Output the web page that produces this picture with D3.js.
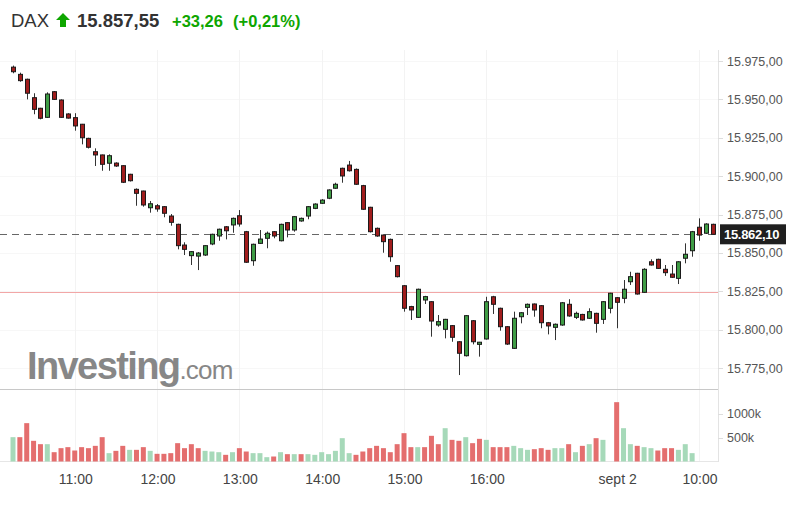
<!DOCTYPE html>
<html>
<head>
<meta charset="utf-8">
<script src="https://cdnjs.cloudflare.com/ajax/libs/d3/7.8.5/d3.min.js"></script>
<style>
  body { margin: 0; background: #fff; }
  text { font-family: "Liberation Sans", Arial, sans-serif; }
</style>
</head>
<body>
<script>
// candle data, 5 min bars, 1 sept 10:15 -> 2 sept 10:10
var opens = [15971,15966.3,15963.1,15951.1,15944.2,15938.3,15955.0,15949.6,15940.5,15938.1,
  15933.8,15924.6,15915.9,15913.8,15908.4,15908.5,15906.8,15901.2,15891.4,15890.3,
  15879.4,15880.7,15880.1,15874.0,15868.6,15855.1,15848.2,15847.9,15848.6,15855.8,
  15861.0,15867.0,15868.2,15874.2,15863.8,15844.9,15856.2,15859.5,15863.8,15857.9,
  15869.7,15864.9,15870.8,15874.0,15879.0,15882.3,15885.6,15892.1,15905.1,15907.2,
  15904.4,15893.8,15879.7,15866.0,15861.6,15858.8,15841.7,15828.6,15815.0,15808.0,
  15819.3,15818.2,15803.0,15800.2,15802.6,15792.1,15783.0,15805.8,15790.4,15793.9,
  15821.4,15813.9,15801.9,15787.8,15808.4,15814.5,15816.7,15815.6,15804.5,15801.5,
  15803.0,15816.5,15808.0,15809.9,15807.4,15810.6,15806.7,15813.9,15820.8,15820.4,
  15831.2,15836.7,15824.3,15844.2,15845.8,15839.3,15836.2,15833.4,15846.5,15851.4,
  15866.7,15862.8,15868.6];
var highs = [15972,15967.4,15963.5,15954.0,15944.5,15954.6,15955.4,15950.0,15941.0,15941.0,
  15934.0,15925.0,15918.1,15914.0,15914.2,15909.0,15907.0,15901.5,15892.0,15890.5,
  15883.8,15881.8,15880.5,15875.3,15869.0,15856.9,15851.2,15850.5,15855.0,15862.5,
  15865.8,15867.5,15873.0,15877.9,15864.3,15856.0,15864.9,15863.9,15864.2,15869.0,
  15870.0,15874.0,15873.0,15880.5,15882.3,15885.0,15891.4,15895.7,15905.5,15909.9,
  15905.0,15894.3,15880.0,15866.5,15862.0,15859.3,15842.0,15829.0,15815.5,15826.7,
  15822.0,15818.5,15809.5,15807.0,15803.0,15792.5,15809.5,15806.2,15792.0,15821.4,
  15822.0,15814.3,15802.3,15811.7,15811.4,15817.0,15817.0,15816.0,15805.0,15804.0,
  15818.0,15819.8,15811.7,15810.3,15813.9,15811.0,15818.6,15824.0,15821.2,15832.3,
  15837.7,15837.0,15840.0,15845.8,15846.2,15842.1,15842.1,15844.6,15856.2,15864.3,
  15872.5,15869.3,15869.0];
var lows = [15967,15961.5,15950.0,15940.3,15937.0,15938.0,15949.6,15938.0,15937.5,15929.6,
  15920.7,15918.0,15906.6,15903.5,15903.5,15906.0,15895.5,15896.5,15880.7,15880.1,
  15876.2,15876.8,15873.2,15867.7,15852.3,15848.6,15842.1,15838.8,15848.0,15855.0,
  15857.9,15858.8,15863.1,15867.1,15843.5,15841.6,15855.8,15853.0,15859.5,15857.5,
  15860.1,15863.8,15870.3,15871.9,15878.5,15882.0,15885.0,15891.7,15895.7,15903.0,
  15894.3,15878.0,15863.3,15860.5,15850.1,15844.2,15834.0,15811.7,15806.3,15807.6,
  15816.7,15795.4,15801.9,15794.3,15792.1,15770.4,15782.5,15790.4,15782.4,15793.5,
  15810.2,15799.3,15790.0,15787.4,15804.1,15809.5,15808.4,15800.9,15796.9,15793.2,
  15802.5,15808.4,15806.9,15805.9,15807.0,15798.0,15803.7,15810.6,15800.9,15817.2,
  15829.1,15822.8,15824.0,15841.7,15839.5,15835.0,15833.7,15829.7,15843.2,15847.5,
  15857.9,15862.3,15862.0];
var closes = [15968,15962.2,15954.0,15943.5,15937.7,15953.5,15950.0,15938.3,15937.8,15932.7,
  15925.0,15918.8,15913.8,15907.7,15913.3,15906.6,15896.0,15897.0,15888.8,15881.2,
  15882.0,15878.6,15875.8,15869.9,15854.7,15852.3,15850.8,15849.9,15854.7,15862.1,
  15865.4,15864.4,15872.5,15868.8,15843.9,15855.6,15859.0,15862.8,15861.0,15868.6,
  15864.9,15873.6,15872.5,15880.1,15881.8,15884.4,15891.0,15894.7,15900.1,15903.5,
  15894.7,15878.4,15863.8,15861.0,15857.3,15847.5,15834.5,15813.9,15812.8,15826.3,
  15821.5,15805.6,15805.2,15806.7,15795.0,15784.6,15809.1,15792.1,15791.8,15818.2,
  15816.5,15801.9,15790.6,15807.4,15811.0,15816.5,15812.8,15804.5,15802.4,15803.5,
  15817.5,15808.9,15810.6,15806.3,15811.7,15804.1,15818.2,15823.7,15817.8,15826.3,
  15834.5,15823.2,15839.3,15842.1,15839.9,15837.1,15834.1,15844.2,15849.1,15863.8,
  15861.6,15868.8,15862.1];
// volume in thousands (null = not published yet)
var volumes = [507,507,799,431,361,361,194,278,299,229,
  299,278,326,507,174,222,326,243,243,299,
  222,160,160,174,382,278,361,278,222,208,
  194,139,194,278,208,174,174,90,104,194,
  153,153,153,153,139,194,153,222,486,174,
  139,208,278,326,278,194,361,590,299,299,
  299,535,361,694,451,431,507,382,472,451,
  299,299,299,326,278,243,257,278,243,278,
  278,361,194,326,361,486,451,0,1236,694,
  361,326,299,278,229,278,278,243,361,174,
  null,null,null];
var prevBarClose = 15965;   // 10:10 bar, before the first shown

var priceTicks = [15775,15800,15825,15850,15875,15900,15925,15950,15975];
var volTicks = [500,1000];
var xTickLabels = ["11:00","12:00","13:00","14:00","15:00","16:00","sept 2","10:00"];
var xTickTimes  = ["1 11:00","1 12:00","1 13:00","1 14:00","1 15:00","1 16:00","2 09:00","2 10:00"];

var lastPrice = 15862.10, prevClose = 15824.29;
var header = {name: "DAX", price: "15.857,55", chg: "+33,26", pct: "(+0,21%)"};

// time categories
var times = [];
for (var m = 10*60+15; m <= 17*60+30; m += 5) times.push("1 " + d3.format("02")(Math.floor(m/60)) + ":" + d3.format("02")(m%60));
for (var m = 9*60; m <= 10*60+10; m += 5) times.push("2 " + d3.format("02")(Math.floor(m/60)) + ":" + d3.format("02")(m%60));

var W = 791, H = 510;
var plotR = 718;
var fmt = function(v){ return d3.format(",.2f")(v).replace(/,/g,"#").replace(".",",").replace(/#/g,"."); };

var svg = d3.select("body").append("svg").attr("width", W).attr("height", H);

var x = d3.scalePoint().domain(times).range([13, 712.7]);
var y = d3.scaleLinear().domain([15775, 15975]).range([368, 61]);
var yv = d3.scaleLinear().domain([0, 1000]).range([461.5, 413.5]);

// grid
var g = svg.append("g");
g.selectAll(".hg").data(priceTicks).enter().append("line")
  .attr("x1", 0).attr("x2", plotR)
  .attr("y1", function(d){ return Math.round(y(d))+0.5; }).attr("y2", function(d){ return Math.round(y(d))+0.5; })
  .attr("stroke", "#f7f7f7");
g.selectAll(".vg").data(xTickTimes).enter().append("line")
  .attr("x1", function(d){ return Math.round(x(d))+0.5; }).attr("x2", function(d){ return Math.round(x(d))+0.5; })
  .attr("y1", 50).attr("y2", 461)
  .attr("stroke", "#f3f3f3");

// frame lines
svg.append("line").attr("x1", plotR+0.5).attr("x2", plotR+0.5).attr("y1", 50).attr("y2", 462).attr("stroke", "#e3e3e3");
svg.append("line").attr("x1", 0).attr("x2", plotR).attr("y1", 389.5).attr("y2", 389.5).attr("stroke", "#c8c8c8");
svg.append("line").attr("x1", 0).attr("x2", plotR).attr("y1", 461.5).attr("y2", 461.5).attr("stroke", "#e6e6e6");

// previous close line
svg.append("line").attr("x1", 0).attr("x2", plotR)
  .attr("y1", Math.round(y(prevClose))+0.5).attr("y2", Math.round(y(prevClose))+0.5)
  .attr("stroke", "#f2a7a7");

// last price dashed line
svg.append("line").attr("x1", 0).attr("x2", plotR)
  .attr("y1", Math.round(y(lastPrice))+0.5).attr("y2", Math.round(y(lastPrice))+0.5)
  .attr("stroke", "#666").attr("stroke-dasharray", "7,5");

// watermark
var wm = svg.append("text").attr("x", 27).attr("y", 379).attr("fill", "#878787");
wm.append("tspan").text("Investing").attr("font-weight", "bold").attr("font-size", 38).attr("letter-spacing", -1.6);
wm.append("tspan").text(".com").attr("font-size", 26).attr("letter-spacing", -0.8);

// volume bars
var idx = d3.range(times.length);
svg.append("g").selectAll("rect").data(idx.filter(function(i){ return volumes[i] != null && volumes[i] > 0; }))
  .enter().append("rect")
  .attr("x", function(i){ return x(times[i]) - 2.5; })
  .attr("width", 5)
  .attr("y", function(i){ return yv(volumes[i]); })
  .attr("height", function(i){ return yv(0) - yv(volumes[i]); })
  .attr("fill", function(i){
    var pc = i == 0 ? prevBarClose : closes[i-1];
    return closes[i] >= pc ? "#a6d9b9" : "#e46e6e";
  });

// candles
var cg = svg.append("g").selectAll("g").data(idx).enter().append("g");
cg.append("line")
  .attr("x1", function(i){ return Math.round(x(times[i]))+0.5; })
  .attr("x2", function(i){ return Math.round(x(times[i]))+0.5; })
  .attr("y1", function(i){ return y(highs[i]); })
  .attr("y2", function(i){ return y(lows[i]); })
  .attr("stroke", "#333");
cg.append("rect")
  .attr("x", function(i){ return Math.round(x(times[i])) - 1.5; })
  .attr("width", 4)
  .attr("y", function(i){ return y(Math.max(opens[i], closes[i])); })
  .attr("height", function(i){ return Math.max(1.5, Math.abs(y(opens[i]) - y(closes[i]))); })
  .attr("fill", function(i){ return closes[i] >= opens[i] ? "#3f9c45" : "#a11d1d"; })
  .attr("stroke", "#1a1a1a").attr("stroke-width", 1);

// y axis labels
svg.append("g").selectAll("text").data(priceTicks).enter().append("text")
  .attr("x", 727).attr("y", function(d){ return y(d) + 4.5; })
  .attr("font-size", 12.5).attr("fill", "#555")
  .text(fmt);
svg.append("g").selectAll("line").data(priceTicks).enter().append("line")
  .attr("x1", plotR).attr("x2", plotR+5)
  .attr("y1", function(d){ return Math.round(y(d))+0.5; }).attr("y2", function(d){ return Math.round(y(d))+0.5; })
  .attr("stroke", "#ddd");

// last price label
var ly = y(lastPrice);
svg.append("rect").attr("x", 720).attr("y", ly - 10).attr("width", 66).attr("height", 20).attr("fill", "#1f1f1f");
svg.append("text").attr("x", 724).attr("y", ly + 5).attr("font-size", 13).attr("font-weight", "bold")
  .attr("letter-spacing", -0.3).attr("fill", "#fff")
  .text(fmt(lastPrice));

// volume axis labels
svg.append("g").selectAll("text").data(volTicks).enter().append("text")
  .attr("x", 727).attr("y", function(d){ return yv(d) + 4.5; })
  .attr("font-size", 12.5).attr("fill", "#555")
  .text(function(d){ return d + "k"; });
svg.append("g").selectAll("line").data(volTicks).enter().append("line")
  .attr("x1", plotR).attr("x2", plotR+5)
  .attr("y1", function(d){ return Math.round(yv(d))+0.5; }).attr("y2", function(d){ return Math.round(yv(d))+0.5; })
  .attr("stroke", "#ddd");

// x axis labels
svg.append("g").selectAll("text").data(xTickTimes).enter().append("text")
  .attr("x", function(d){ return x(d) + 1; }).attr("y", 484)
  .attr("text-anchor", "middle").attr("font-size", 14).attr("fill", "#444")
  .text(function(d, i){ return xTickLabels[i]; });

// header
var hd = svg.append("text").attr("x", 11).attr("y", 27).attr("font-size", 18.5);
hd.append("tspan").text(header.name).attr("fill", "#333");
svg.append("path").attr("d", "M63,13 L70,20 L66,20 L66,27 L60,27 L60,20 L56,20 Z").attr("fill", "#0ea600");
svg.append("text").attr("x", 77).attr("y", 27).attr("font-size", 18.5).attr("font-weight", "bold").attr("fill", "#333").text(header.price);
svg.append("text").attr("x", 172).attr("y", 27).attr("font-size", 16.5).attr("font-weight", "bold").attr("fill", "#0ea600").text(header.chg);
svg.append("text").attr("x", 233).attr("y", 27).attr("font-size", 16.5).attr("font-weight", "bold").attr("fill", "#0ea600").text(header.pct);
</script>
</body>
</html>
